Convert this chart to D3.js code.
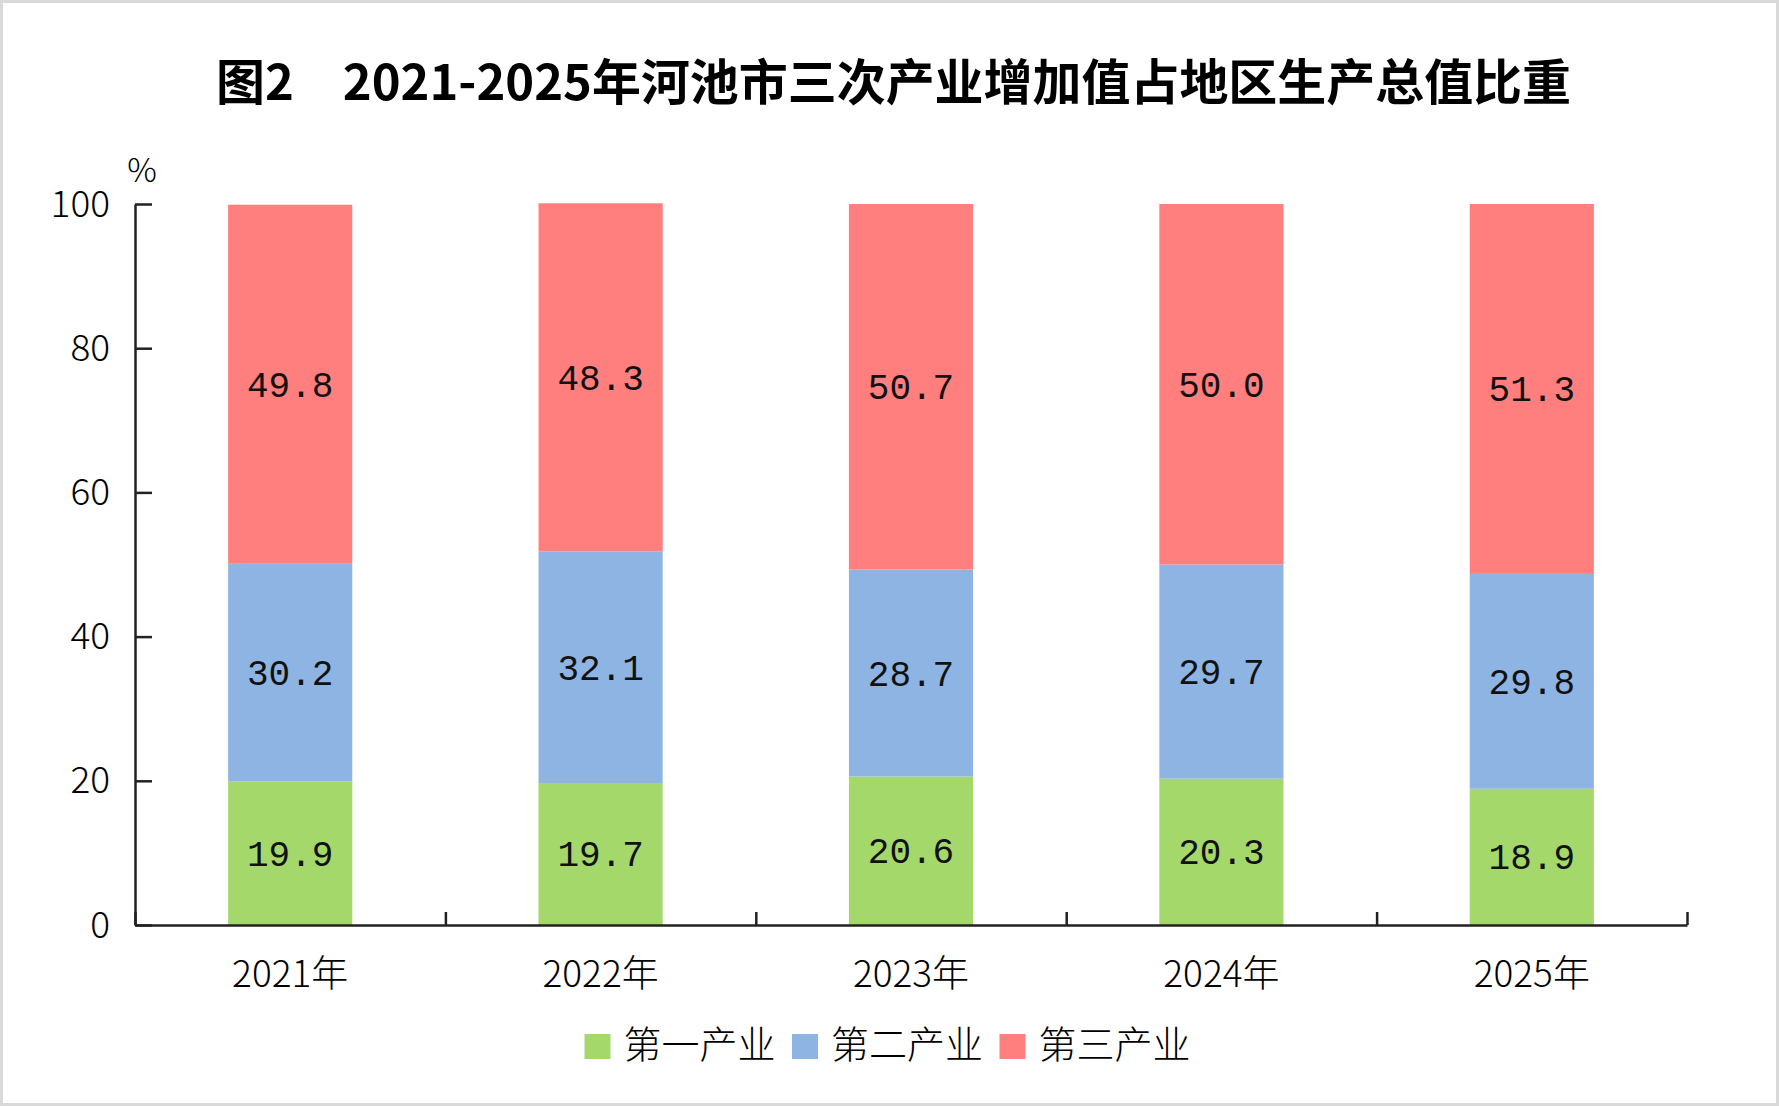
<!DOCTYPE html>
<html>
<head>
<meta charset="utf-8">
<script src="https://cdn.jsdelivr.net/npm/d3@7"></script>
<style>
    html, body { margin: 0; padding: 0; background: #fff; }
    #chart-area { width: 1779px; height: 1107px; }
</style>
</head>
<body>
<div id="chart-area"></div>
<script>

// data
const years = ["2021年", "2022年", "2023年", "2024年", "2025年"];
const seriesNames = ["第一产业", "第二产业", "第三产业"];
const primaryShare = [19.9, 19.7, 20.6, 20.3, 18.9];
const secondaryShare = [30.2, 32.1, 28.7, 29.7, 29.8];
const tertiaryShare = [49.8, 48.3, 50.7, 50.0, 51.3];
const yTickValues = [0, 20, 40, 60, 80, 100];
const seriesColors = ["#a5d86b", "#8eb4e3", "#ff7f7f"];

const titleText = "图2\u30002021-2025年河池市三次产业增加值占地区生产总值比重";


class StackedBarChart {

    constructor(parentElement) {
        this.parentElement = parentElement;
        this.displayData = [];

        this.initVis();
    }

    initVis() {
        let vis = this;

        vis.fullWidth = 1779;
        vis.fullHeight = 1107;
        vis.margin = {top: 204, right: 92, bottom: 182, left: 135};
        vis.width = vis.fullWidth - vis.margin.left - vis.margin.right;
        vis.height = vis.fullHeight - vis.margin.top - vis.margin.bottom;

        vis.root = d3.select("#" + vis.parentElement).append("svg")
            .attr("width", vis.fullWidth)
            .attr("height", vis.fullHeight);

        // light frame round the picture
        vis.root.append("rect")
            .attr("x", 1.5).attr("y", 1.5)
            .attr("width", vis.fullWidth - 3)
            .attr("height", vis.fullHeight - 4)
            .attr("fill", "#fff")
            .attr("stroke", "#d9d9d9")
            .attr("stroke-width", 3);

        // title
        vis.root.append("text")
            .attr("class", "title")
            .attr("x", 216)
            .attr("y", 78)
            .attr("textLength", 1355)
            .attr("lengthAdjust", "spacingAndGlyphs")
            .attr("dominant-baseline", "central")
            .attr("font-family", "'Noto Sans CJK SC', sans-serif")
            .attr("font-weight", "bold")
            .attr("font-size", "49px")
            .attr("fill", "#000")
            .text(titleText);

        vis.svg = vis.root.append("g")
            .attr("transform", `translate(${vis.margin.left}, ${vis.margin.top})`);

        // unit label
        vis.svg.append("text")
            .attr("x", 7)
            .attr("y", -36)
            .attr("text-anchor", "middle")
            .attr("dominant-baseline", "central")
            .attr("font-family", "'Noto Sans CJK SC', sans-serif")
            .attr("font-weight", 300)
            .attr("font-size", "33px")
            .attr("fill", "#000")
            .text("%");

        vis.y = d3.scaleLinear()
            .domain([0, 100])
            .range([vis.height, 0]);

        vis.x = d3.scaleBand()
            .domain(years)
            .range([0, vis.width])
            .paddingInner(0.6)
            .paddingOuter(0.3);

        // boundaries between categories (ticks point up)
        vis.xEdge = d3.scaleLinear()
            .domain([0, years.length])
            .range([0, vis.width]);

        vis.yAxis = d3.axisLeft(vis.y)
            .tickValues(yTickValues)
            .tickSize(-17)
            .tickSizeOuter(0)
            .tickPadding(25);

        vis.xEdgeAxis = d3.axisBottom(vis.xEdge)
            .tickValues(d3.range(0, years.length + 1))
            .tickFormat("")
            .tickSize(-13)
            .tickSizeOuter(0);

        vis.xAxis = d3.axisBottom(vis.x)
            .tickSize(0);

        vis.barGroup = vis.svg.append("g").attr("class", "bars");
        vis.labelGroup = vis.svg.append("g").attr("class", "bar-labels");

        vis.svg.append("g")
            .attr("class", "x-edge axis")
            .attr("transform", "translate(0," + vis.height + ")");

        vis.svg.append("g")
            .attr("class", "x-axis axis")
            .attr("transform", "translate(0," + vis.height + ")");

        vis.svg.append("g")
            .attr("class", "y-axis axis");

        // legend
        vis.legend = vis.root.append("g")
            .attr("class", "legend")
            .attr("transform", "translate(584.5, 1034)");

        this.wrangleData();
    }

    wrangleData() {
        let vis = this;

        let rows = years.map((yr, i) => ({
            year: yr,
            [seriesNames[0]]: primaryShare[i],
            [seriesNames[1]]: secondaryShare[i],
            [seriesNames[2]]: tertiaryShare[i]
        }));

        vis.displayData = d3.stack().keys(seriesNames)(rows);

        vis.updateVis();
    }

    updateVis() {
        let vis = this;

        let layers = vis.barGroup.selectAll(".layer")
            .data(vis.displayData)
            .enter().append("g")
            .attr("class", "layer")
            .attr("fill", (d, i) => seriesColors[i]);

        layers.selectAll("rect")
            .data(d => d)
            .enter().append("rect")
            .attr("x", d => vis.x(d.data.year))
            .attr("y", d => vis.y(d[1]))
            .attr("width", vis.x.bandwidth())
            .attr("height", d => vis.y(d[0]) - vis.y(d[1]));

        let labelLayers = vis.labelGroup.selectAll(".label-layer")
            .data(vis.displayData)
            .enter().append("g")
            .attr("class", "label-layer");

        labelLayers.selectAll("text")
            .data(d => d.map(p => ({p: p, key: d.key})))
            .enter().append("text")
            .attr("x", d => vis.x(d.p.data.year) + vis.x.bandwidth() / 2)
            .attr("y", d => vis.y((d.p[0] + d.p[1]) / 2))
            .attr("dy", 3)
            .attr("text-anchor", "middle")
            .attr("dominant-baseline", "central")
            .attr("font-family", "'Liberation Mono', monospace")
            .attr("font-size", "36px")
            .attr("fill", "#111")
            .text(d => d.p.data[d.key].toFixed(1));

        // axes
        vis.svg.select(".x-edge")
            .call(vis.xEdgeAxis)
            .call(g => g.selectAll("path, line")
                .attr("stroke", "#222")
                .attr("stroke-width", 2.5));

        vis.svg.select(".x-axis")
            .call(vis.xAxis)
            .call(g => g.select(".domain").remove())
            .call(g => g.selectAll("text")
                .attr("y", 46)
                .attr("dy", null)
                .attr("dominant-baseline", "central")
                .attr("font-family", "'Noto Sans CJK SC', sans-serif")
                .attr("font-weight", 300)
                .attr("font-size", "37px")
                .attr("fill", "#000"));

        vis.svg.select(".y-axis")
            .call(vis.yAxis)
            .call(g => g.selectAll("path, line")
                .attr("stroke", "#222")
                .attr("stroke-width", 2.5))
            .call(g => g.selectAll("text")
                .attr("dy", -4)
                .attr("dominant-baseline", "central")
                .attr("font-family", "'Noto Sans CJK SC', sans-serif")
                .attr("font-weight", 300)
                .attr("font-size", "37px")
                .attr("fill", "#000"));

        // legend entries
        let item = vis.legend.selectAll(".legend-item")
            .data(seriesNames)
            .enter().append("g")
            .attr("class", "legend-item")
            .attr("transform", (d, i) => `translate(${i * 207.5}, 0)`);

        item.append("rect")
            .attr("width", 26)
            .attr("height", 25)
            .attr("fill", (d, i) => seriesColors[i]);

        item.append("text")
            .attr("x", 39)
            .attr("y", 7)
            .attr("dominant-baseline", "central")
            .attr("font-family", "'Noto Sans CJK SC', sans-serif")
            .attr("font-weight", 300)
            .attr("font-size", "38px")
            .attr("fill", "#000")
            .text(d => d);
    }
}

new StackedBarChart("chart-area");

</script>
</body>
</html>
